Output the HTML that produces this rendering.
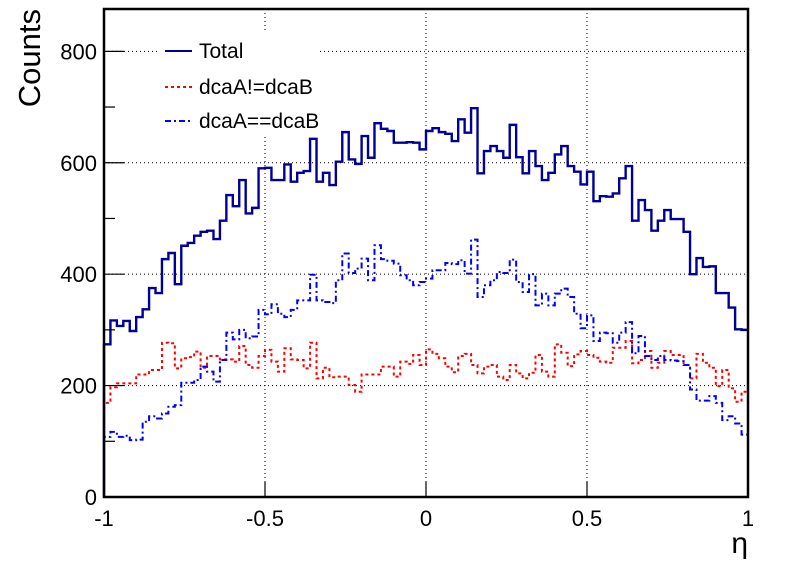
<!DOCTYPE html>
<html><head><meta charset="utf-8"><style>
html,body{margin:0;padding:0;background:#fff;}
svg{display:block;font-family:"Liberation Sans",Arial,sans-serif;}
</style></head><body>
<svg id="chart" width="796" height="572" viewBox="0 0 796 572" xmlns="http://www.w3.org/2000/svg"></svg>
<script>
const totalCounts=[274,317,307,316,298,323,337,375,366,427,438,382,451,456,469,476,478,463,496,542,522,569,509,519,590,591,569,569,597,566,582,585,643,
566,582,560,602,655,606,598,648,609,671,661,657,636,636,637,636,624,657,662,655,652,639,678,654,698,581,621,630,621,609,668,610,581,
621,594,569,582,615,630,594,584,561,584,531,540,539,545,572,594,496,533,515,478,496,515,499,499,476,400,429,413,414,366,366,340,301,300];
const diffCounts=[169,197,204,204,204,220,220,228,228,277,276,231,249,251,261,232,253,253,247,247,243,271,237,232,253,264,243,225,267,247,246,231,277,
213,232,215,216,216,201,189,220,220,220,234,234,216,243,239,255,237,265,257,249,234,224,253,257,237,222,234,237,216,210,237,222,213,
223,255,225,216,274,259,235,256,262,255,250,243,241,268,268,280,240,246,262,232,241,262,255,255,237,213,257,241,232,199,228,195,171,189];
const sameCounts=[108,117,108,110,102,103,135,145,141,150,162,165,205,205,210,234,225,207,246,295,283,300,285,288,336,328,346,329,323,336,353,353,399,
353,350,348,389,437,402,410,428,389,452,427,424,419,398,389,380,386,392,407,407,420,418,425,401,462,359,380,389,404,402,426,386,368,
400,344,365,344,365,374,359,329,303,326,280,295,294,277,295,314,258,289,253,246,253,246,245,244,237,193,173,173,181,169,138,145,132,112];
const xTicks=[-1,-0.5,0,0.5,1];
const xTickLabels=["-1","-0.5","0","0.5","1"];
const yTicks=[0,200,400,600,800];
const yTickLabels=["0","200","400","600","800"];
const xMin=-1,xMax=1,yMin=0,yMax=876;

const L=104,R=748,T=9,B=497;
const NS="http://www.w3.org/2000/svg";
const svg=document.getElementById('chart');
function X(v){return L+(v-xMin)/(xMax-xMin)*(R-L);}
function Y(v){return B-(v-yMin)/(yMax-yMin)*(B-T);}
function mk(tag,attrs,parent){const e=document.createElementNS(NS,tag);for(const k in attrs)e.setAttribute(k,attrs[k]);(parent||svg).appendChild(e);return e;}

const grid=mk('g',{});


xTicks.forEach(t=>{if(t>xMin&&t<xMax){const l=mk('line',{x1:X(t),x2:X(t),y1:T,y2:B,stroke:'#000','stroke-width':1,'stroke-dasharray':'1,3'},grid);

}});
yTicks.forEach(t=>{if(t>yMin){const l=mk('line',{x1:L,x2:R,y1:Y(t),y2:Y(t),stroke:'#000','stroke-width':1,'stroke-dasharray':'1,3'},grid);

}});

function histPath(arr){
  const n=arr.length,w=(xMax-xMin)/n;let d='M'+X(xMin)+','+Y(0);
  for(let i=0;i<n;i++){const x0=X(xMin+i*w),x1=X(xMin+(i+1)*w),y=Y(arr[i]);d+=' L'+x0+','+y+' L'+x1+','+y;}
  return d;
}
const s1=mk('path',{d:histPath(diffCounts),fill:'none',stroke:'#ff0000','stroke-width':2,'stroke-dasharray':'3,3'});


const s2=mk('path',{d:histPath(sameCounts),fill:'none',stroke:'#0000ff','stroke-width':2,'stroke-dasharray':'6,3,2,3'});


const s0=mk('path',{d:histPath(totalCounts),fill:'none',stroke:'#000099','stroke-width':2.4});



const lg=mk('g',{});


mk('rect',{x:158,y:33,width:160,height:101,fill:'#fff'},lg);
const entries=[["Total","#000099","none",51],["dcaA!=dcaB","#ff0000","3,3",87],["dcaA==dcaB","#0000ff","6,3,2,3",121]];
entries.forEach(e=>{
  const g=mk('g',{},lg);
  
  
  mk('line',{x1:165,x2:192,y1:e[3],y2:e[3],stroke:e[1],'stroke-width':2,'stroke-dasharray':e[2]},g);
  const t=mk('text',{x:199,y:e[3]+7,'font-size':21,fill:'#000'},g);t.textContent=e[0];
});

const fr=mk('rect',{x:L,y:T,width:R-L,height:B-T,fill:'none',stroke:'#000','stroke-width':2.5});



const ax=mk('g',{});


xTicks.forEach((t,i)=>{
  mk('line',{x1:X(t),x2:X(t),y1:B,y2:B-15,stroke:'#000','stroke-width':1.2},ax);
  const tx=mk('text',{x:X(t),y:B+29,'font-size':22,'text-anchor':'middle'},ax);tx.textContent=xTickLabels[i];
  
  
});
const ay=mk('g',{});


for(let v=0;v<=yMax;v+=100){mk('line',{x1:L,x2:L+(v%200===0?20:11),y1:Y(v),y2:Y(v),stroke:'#000','stroke-width':1.2},ay);}
yTicks.forEach((t,i)=>{
  const tx=mk('text',{x:97,y:Y(t)+8,'font-size':22,'text-anchor':'end'},ay);tx.textContent=yTickLabels[i];
  
  
});
const yt=mk('text',{x:0,y:0,'font-size':31,'text-anchor':'end',transform:'translate(40,9) rotate(-90)'});
yt.textContent='Counts';


const xt=mk('text',{x:748,y:553,'font-size':30,'text-anchor':'end'});
xt.textContent='η';


</script>
</body></html>
